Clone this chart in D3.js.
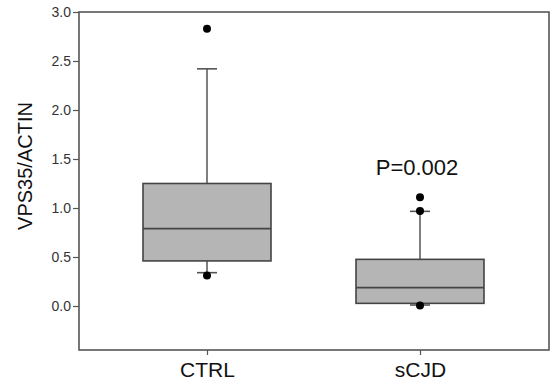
<!DOCTYPE html>
<html><head><meta charset="utf-8">
<script src="https://cdn.jsdelivr.net/npm/d3@7"></script>
<style>body{margin:0;background:#fff;}svg{display:block;font-family:"Liberation Sans",Arial,sans-serif;}</style>
</head><body>
<svg id="c" width="551" height="392"></svg>
<script>
const categories = ["CTRL", "sCJD"];
const q1 = [0.46, 0.027];
const median = [0.79, 0.187];
const q3 = [1.25, 0.476];
const whiskerLow = [0.34, 0.01];
const whiskerHigh = [2.42, 0.966];
const outliers = [[2.83, 0.31], [1.11, 0.97, 0.005]];
const yTicks = [0.0, 0.5, 1.0, 1.5, 2.0, 2.5, 3.0];
const annotation = "P=0.002";
const yTitle = "VPS35/ACTIN";

const svg = d3.select("#c");
const L = 79, R = 549, T = 12, B = 350;
const y = d3.scaleLinear().domain([-0.449, 3.0]).range([B, T]);
const x = d3.scalePoint().domain(categories).range([207, 420]);
const boxHalf = 64, capHalf = 10;
const lineCol = "#555";

// frame
svg.append("rect").attr("x", L).attr("y", T).attr("width", R - L).attr("height", B - T)
  .attr("fill", "none").attr("stroke", lineCol).attr("stroke-width", 1.6);

// y axis
const yAxis = svg.append("g").attr("transform", `translate(${L},0)`)
  .call(d3.axisLeft(y).tickValues(yTicks).tickFormat(d3.format(".1f")).tickSize(6).tickPadding(2));
yAxis.select(".domain").remove();
yAxis.selectAll(".tick line").attr("stroke", lineCol).attr("stroke-width", 1.2);
yAxis.selectAll(".tick text").attr("font-size", 14).attr("fill", "#333").attr("font-family", "Liberation Sans, Arial, sans-serif");

// x axis
const xAxis = svg.append("g").attr("transform", `translate(0,${B})`)
  .call(d3.axisBottom(x).tickSize(5).tickPadding(7));
xAxis.select(".domain").remove();
xAxis.selectAll(".tick line").attr("stroke", lineCol).attr("stroke-width", 1.2);
xAxis.selectAll(".tick text").attr("font-size", 21).attr("fill", "#111").attr("font-family", "Liberation Sans, Arial, sans-serif");

// y title
svg.append("text").attr("transform", `translate(32,${(T + B) / 2 - 15}) rotate(-90)`)
  .attr("text-anchor", "middle").attr("font-size", 20).attr("fill", "#111").text(yTitle);

// boxes
categories.forEach((c, i) => {
  const cx = x(c);
  const g = svg.append("g");
  g.append("line").attr("x1", cx).attr("x2", cx).attr("y1", y(q3[i])).attr("y2", y(whiskerHigh[i]))
    .attr("stroke", lineCol).attr("stroke-width", 1.5);
  g.append("line").attr("x1", cx).attr("x2", cx).attr("y1", y(q1[i])).attr("y2", y(whiskerLow[i]))
    .attr("stroke", lineCol).attr("stroke-width", 1.5);
  [whiskerHigh[i], whiskerLow[i]].forEach(v => {
    g.append("line").attr("x1", cx - capHalf).attr("x2", cx + capHalf).attr("y1", y(v)).attr("y2", y(v))
      .attr("stroke", lineCol).attr("stroke-width", 1.6);
  });
  g.append("rect").attr("x", cx - boxHalf).attr("width", boxHalf * 2)
    .attr("y", y(q3[i])).attr("height", y(q1[i]) - y(q3[i]))
    .attr("fill", "#b5b5b5").attr("stroke", "#444").attr("stroke-width", 1.6);
  g.append("line").attr("x1", cx - boxHalf).attr("x2", cx + boxHalf).attr("y1", y(median[i])).attr("y2", y(median[i]))
    .attr("stroke", "#444").attr("stroke-width", 1.6);
  outliers[i].forEach(v => {
    g.append("circle").attr("cx", cx).attr("cy", y(v)).attr("r", 4).attr("fill", "#000");
  });
});

// annotation
svg.append("text").attr("x", x("sCJD")-3).attr("y", 175).attr("text-anchor", "middle")
  .attr("font-size", 22).attr("fill", "#111").text(annotation);
</script>
</body></html>
